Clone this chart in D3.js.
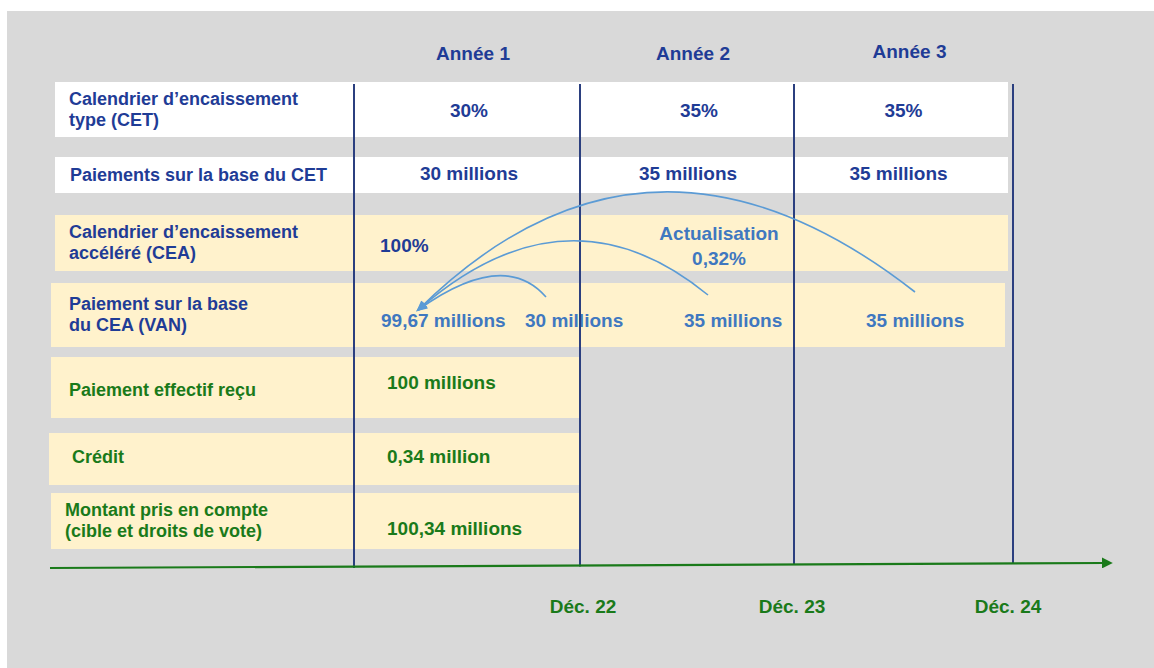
<!DOCTYPE html>
<html lang="fr">
<head>
<meta charset="UTF-8">
<title>Calendrier d'encaissement</title>
<style>
body{ margin:0; background:#fff; }
svg{ display:block; }
text{ font-family:"Liberation Sans", Arial, sans-serif; font-weight:bold; }
.lbl{ font-size:18px; }
.val{ font-size:19px; }
.navy{ fill:#1f3c96; }
.blue{ fill:#3f78c0; }
.green{ fill:#1a7a1a; }
.yearline{ stroke:#2b3f7f; stroke-width:2; }
.arc{ fill:none; stroke:#5b9bd5; stroke-width:1.6; }
</style>
</head>
<body>
<script src="https://cdnjs.cloudflare.com/ajax/libs/d3/7.8.5/d3.min.js"></script>
<script>
// ---- data ----
var years = ["Année 1", "Année 2", "Année 3"];
var dates = ["Déc. 22", "Déc. 23", "Déc. 24"];
var rowLabels = [
  ["Calendrier d’encaissement", "type (CET)"],
  ["Paiements sur la base du CET"],
  ["Calendrier d’encaissement", "accéléré (CEA)"],
  ["Paiement sur la base", "du CEA (VAN)"],
  ["Paiement effectif reçu"],
  ["Crédit"],
  ["Montant pris en compte", "(cible et droits de vote)"]
];
var cetShare = [30, 35, 35];        // %
var cetPayments = [30, 35, 35];     // millions
var ceaShare = 100;                 // %
var discountRate = 0.32;            // %
var vanTotal = 99.67;               // millions
var received = 100;                 // millions
var credit = 0.34;                  // million
var counted = 100.34;               // millions

// ---- layout ----
var W = 1154, H = 668;
var rowBox = [[82, 137], [157, 193], [215, 271], [283, 347], [357, 418], [433, 485], [493, 549]];
var rowLeft = [55, 55, 55, 51, 51, 49, 51];
var labelX = [69, 70, 69, 69, 69, 72, 65];
var labelShift = [0, 0, 0, 0, 2, -2, 0];
var rowFill = ["#ffffff", "#ffffff", "#fff2cc", "#fff2cc", "#fff2cc", "#fff2cc", "#fff2cc"];
var labelColor = ["navy", "navy", "navy", "navy", "green", "green", "green"];

var fr = d3.formatLocale({ decimal: ",", thousands: " ", grouping: [3], currency: ["", " €"] });
var f2 = fr.format(".2f");
var mil = function (v) { return (v % 1 ? f2(v) : v) + (v < 2 ? " million" : " millions"); };

// time axis: year boundaries
var x = d3.scaleLinear().domain([0, 1, 2, 3]).range([354, 580, 794, 1013]);
var mid = function (i) { return (x(i) + x(i + 1)) / 2; };

var svg = d3.select("body").append("svg")
  .attr("width", W).attr("height", H);

svg.append("rect").attr("x", 7).attr("y", 11)
  .attr("width", W - 7).attr("height", H - 11).attr("fill", "#d9d9d9");

// rows
svg.selectAll("rect.row").data(rowLabels).enter().append("rect")
  .attr("class", "row")
  .attr("x", function (d, i) { return rowLeft[i]; })
  .attr("y", function (d, i) { return rowBox[i][0]; })
  .attr("width", function (d, i) { return (i < 4 ? (i == 3 ? 1005 : 1008) : x(1)) - rowLeft[i]; })
  .attr("height", function (d, i) { return rowBox[i][1] - rowBox[i][0]; })
  .attr("fill", function (d, i) { return rowFill[i]; });

// row labels
rowLabels.forEach(function (lines, i) {
  var cy = (rowBox[i][0] + rowBox[i][1]) / 2;
  var y0 = cy + 6 - (lines.length - 1) * 11 + labelShift[i];
  var t = svg.append("text").attr("class", "lbl " + labelColor[i]);
  lines.forEach(function (s, k) {
    t.append("tspan").attr("x", labelX[i]).attr("y", y0 + k * 21).text(s);
  });
});

// year headers
svg.selectAll("text.year").data(years).enter().append("text")
  .attr("class", "val navy").attr("text-anchor", "middle")
  .attr("x", function (d, i) { return mid(i) + 6; })
  .attr("y", function (d, i) { return i == 2 ? 58 : 60; })
  .text(function (d) { return d; });

// CET %
svg.selectAll("text.cet").data(cetShare).enter().append("text")
  .attr("class", "val navy").attr("text-anchor", "middle")
  .attr("x", function (d, i) { return mid(i) + [2, 12, 0][i]; })
  .attr("y", 117).text(function (d) { return d + "%"; });

// CET payments
svg.selectAll("text.cetp").data(cetPayments).enter().append("text")
  .attr("class", "val navy").attr("text-anchor", "middle")
  .attr("x", function (d, i) { return mid(i) + [2, 1, -5][i]; })
  .attr("y", 180).text(function (d) { return mil(d); });

// CEA row
svg.append("text").attr("class", "val navy")
  .attr("x", x(0) + 26).attr("y", 252).text(ceaShare + "%");
svg.append("text").attr("class", "val blue").attr("text-anchor", "middle")
  .attr("x", mid(1) + 32)
  .selectAll("tspan").data(["Actualisation", f2(discountRate) + "%"]).enter().append("tspan")
  .attr("x", mid(1) + 32).attr("y", function (d, k) { return 240 + k * 25; })
  .text(function (d) { return d; });

// VAN row: total + the three discounted payments
var payStart = [x(1) - 55, x(2) - 110, x(3) - 147];
svg.append("text").attr("class", "val blue")
  .attr("x", x(0) + 27).attr("y", 327).text(mil(vanTotal));
svg.selectAll("text.van").data(cetPayments).enter().append("text")
  .attr("class", "val blue")
  .attr("x", function (d, i) { return payStart[i]; })
  .attr("y", 327).text(function (d) { return mil(d); });

// Received / credit / counted
var greenVals = [[received, 389], [credit, 463], [counted, 535]];
svg.selectAll("text.gv").data(greenVals).enter().append("text")
  .attr("class", "val green")
  .attr("x", x(0) + 33).attr("y", function (d) { return d[1]; })
  .text(function (d) { return mil(d[0]); });

// year separators
svg.selectAll("line.yearline").data([0, 1, 2, 3]).enter().append("line")
  .attr("class", "yearline")
  .attr("x1", function (d) { return x(d); }).attr("x2", function (d) { return x(d); })
  .attr("y1", 84).attr("y2", function (d) { return 568 - d * 1.6; });

// time axis with arrow
var defs = svg.append("defs");
defs.append("marker").attr("id", "garrow")
  .attr("viewBox", "0 0 10 10").attr("refX", 2).attr("refY", 5)
  .attr("markerWidth", 5).attr("markerHeight", 5).attr("orient", "auto")
  .append("path").attr("d", "M0,0L10,5L0,10Z").attr("fill", "#1a7a1a");
svg.append("line").attr("x1", 50).attr("y1", 568).attr("x2", 1104).attr("y2", 563)
  .attr("stroke", "#1a7a1a").attr("stroke-width", 2.2).attr("marker-end", "url(#garrow)");

svg.selectAll("text.date").data(dates).enter().append("text")
  .attr("class", "val green").attr("text-anchor", "middle")
  .attr("x", function (d, i) { return x(i + 1) + [3, -2, -5][i]; })
  .attr("y", 613).text(function (d) { return d; });

// discounting arcs back to the VAN total
defs.append("marker").attr("id", "barrow")
  .attr("viewBox", "0 0 10 10").attr("refX", 8).attr("refY", 5)
  .attr("markerWidth", 7).attr("markerHeight", 7).attr("orient", "auto")
  .append("path").attr("d", "M0,1L10,5L0,9Z").attr("fill", "#5b9bd5");

var tip = [x(0) + 64, 310];
var arcFrom = [[546, 297], [708, 295], [915, 292]];
var arcPeak = [[493, 276], [565, 241], [657, 192]];
arcFrom.forEach(function (p, i) {
  var m = [(p[0] + tip[0]) / 2, (p[1] + tip[1]) / 2];
  var c = [2 * arcPeak[i][0] - m[0], 2 * arcPeak[i][1] - m[1]];
  var path = d3.path();
  path.moveTo(p[0], p[1]);
  path.quadraticCurveTo(c[0], c[1], tip[0], tip[1]);
  svg.append("path").attr("class", "arc").attr("d", path.toString())
    .attr("marker-end", "url(#barrow)");
});
</script>
</body>
</html>
